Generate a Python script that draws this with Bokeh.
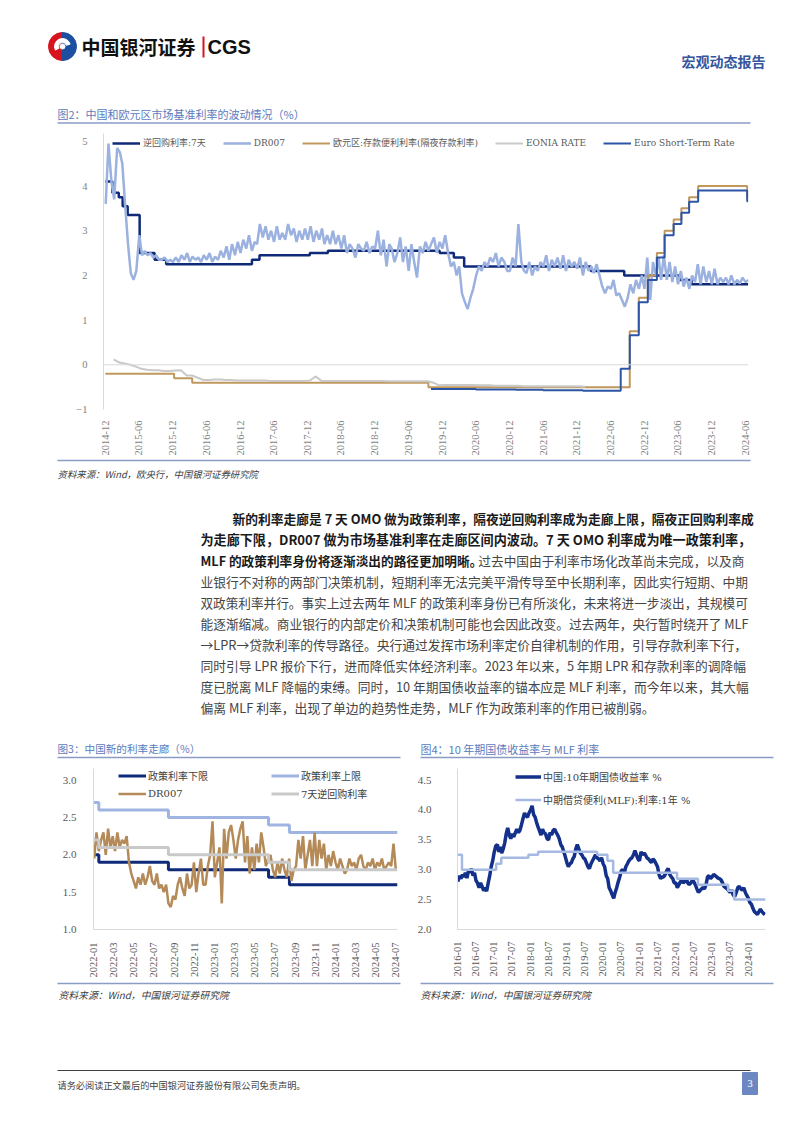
import pandas as pd
from math import pi
from bokeh.plotting import figure
from bokeh.layouts import column, row
from bokeh.models import (Range1d, FixedTicker, DatetimeTickFormatter, NumeralTickFormatter,
                          Legend, LegendItem, Span)
from bokeh.core.properties import value
from bokeh.embed import file_html
from bokeh.resources import INLINE

CJK = "Noto Sans CJK SC"
SERIF = "Liberation Serif"
MIX = "DejaVu Serif, Noto Sans CJK SC"

# ---------------- DATA: chart 1 (图2) ----------------
CH1_TICKS = ["2014-12", "2015-06", "2015-12", "2016-06", "2016-12", "2017-06", "2017-12",
             "2018-06", "2018-12", "2019-06", "2019-12", "2020-06", "2020-12", "2021-06",
             "2021-12", "2022-06", "2022-12", "2023-06", "2023-12", "2024-06"]
# 逆回购利率:7天 (step changes)
REPO_DATES = ["2014-12-01", "2015-01-08", "2015-02-12", "2015-03-05", "2015-04-01", "2015-06-05",
              "2015-08-25", "2015-10-27", "2017-02-03", "2017-03-16", "2017-12-14", "2018-03-22",
              "2019-11-18", "2020-02-03", "2020-03-30", "2022-02-15", "2022-08-15", "2023-06-13",
              "2023-08-15", "2024-06-17"]
REPO_VALS = [4.10, 3.85, 3.75, 3.55, 3.35, 2.50, 2.35, 2.25, 2.35, 2.45, 2.50, 2.55,
             2.50, 2.40, 2.20, 2.10, 2.00, 1.90, 1.80, 1.80]
# DR007, two readings per month, 2014-12 .. 2024-06
DR007_START = "2014-12-01"
DR007_VALS = [
    3.6, 4.95,
    4.1, 3.7, 4.85, 4.75, 4.5, 3.6, 2.7, 2.05, 1.9, 2.1, 2.9, 2.45,
    2.55, 2.45, 2.5, 2.4, 2.45, 2.35, 2.35, 2.4, 2.3, 2.35, 2.3, 2.4,
    2.3, 2.45, 2.35, 2.5, 2.3, 2.42, 2.35, 2.4, 2.3, 2.45, 2.35, 2.5,
    2.3, 2.42, 2.35, 2.55, 2.4, 2.65, 2.35, 2.7, 2.45, 2.75, 2.5, 2.8,
    2.6, 2.9, 2.55, 2.75, 2.7, 3.15, 2.85, 3.1, 2.8, 3.0, 2.75, 3.1,
    2.8, 2.95, 2.8, 3.15, 2.9, 3.05, 2.75, 3.0, 2.8, 3.05, 2.8, 3.1,
    2.75, 3.0, 2.8, 3.05, 2.7, 2.9, 2.7, 3.0, 2.7, 2.9, 2.6, 2.9,
    2.5, 2.7, 2.6, 2.4, 2.7, 2.6, 2.55, 2.75, 2.5, 2.65, 2.6, 3.0,
    2.45, 2.8, 2.2, 2.7, 2.6, 2.3, 2.5, 2.85, 2.3, 2.65, 2.1, 2.7,
    2.3, 1.95, 2.65, 2.5, 2.75, 2.55, 2.7, 2.85, 2.5, 2.75, 2.6, 2.9,
    2.5, 2.2, 2.3, 2.0, 2.2, 1.6, 1.4, 1.25, 1.5, 1.7, 2.0, 2.2,
    2.1, 2.3, 2.2, 2.4, 2.3, 2.5, 2.2, 2.4, 2.3, 2.1, 2.1, 2.4,
    2.2, 3.15, 2.3, 2.1, 2.05, 2.3, 2.0, 2.2, 2.1, 2.3, 2.2, 2.45,
    2.1, 2.35, 2.2, 2.4, 2.15, 2.45, 2.1, 2.35, 2.2, 2.3, 2.15, 2.4,
    2.0, 2.3, 2.1, 2.2, 2.05, 2.25, 2.0, 1.75, 1.6, 1.75, 1.7, 1.9,
    1.55, 1.6, 1.45, 1.3, 1.5, 1.8, 1.6, 1.9, 1.7, 2.0, 1.7, 2.4,
    1.45, 2.3, 2.0, 2.4, 1.9, 2.45, 1.9, 2.3, 1.85, 2.2, 1.8, 2.1,
    1.75, 1.95, 1.7, 2.0, 1.85, 2.25, 1.8, 2.2, 1.85, 2.1, 1.8, 2.15,
    1.8, 1.95, 1.85, 1.95, 1.8, 2.0, 1.8, 1.9, 1.82, 1.95, 1.85, 1.9,
]
# 欧元区:存款便利利率(隔夜存款利率)
DEPO_DATES = ["2014-12-01", "2015-12-09", "2016-03-16", "2019-09-18", "2022-09-14", "2022-11-02",
              "2022-12-21", "2023-02-08", "2023-03-22", "2023-05-10", "2023-06-21", "2023-08-02",
              "2023-09-20", "2024-06-12", "2024-06-17"]
DEPO_VALS = [-0.20, -0.30, -0.40, -0.50, 0.75, 1.50, 2.00, 2.50, 3.00, 3.25, 3.50, 3.75,
             4.00, 3.75, 3.75]
# EONIA RATE, monthly 2014-12 .. 2021-12
EONIA_START = "2014-12-15"
EONIA_VALS = [
    0.12,
    0.05, 0.03, 0.0, -0.04, -0.09, -0.11, -0.12, -0.12, -0.14, -0.14, -0.13, -0.12,
    -0.24, -0.24, -0.29, -0.34, -0.34, -0.33, -0.33, -0.34, -0.34, -0.35, -0.35, -0.35,
    -0.35, -0.35, -0.35, -0.36, -0.36, -0.36, -0.36, -0.36, -0.36, -0.36, -0.35, -0.26,
    -0.36, -0.36, -0.36, -0.36, -0.36, -0.36, -0.36, -0.36, -0.36, -0.36, -0.36, -0.36,
    -0.37, -0.37, -0.37, -0.37, -0.37, -0.37, -0.37, -0.37, -0.40, -0.46, -0.45, -0.45,
    -0.45, -0.45, -0.45, -0.45, -0.46, -0.46, -0.46, -0.47, -0.47, -0.47, -0.47, -0.47,
    -0.48, -0.48, -0.48, -0.48, -0.48, -0.48, -0.48, -0.48, -0.48, -0.48, -0.48, -0.49,
]
# Euro Short-Term Rate
ESTR_DATES = ["2019-10-02", "2020-06-01", "2021-01-04", "2021-06-01", "2022-01-03", "2022-07-27",
              "2022-09-14", "2022-11-02", "2022-12-21", "2023-02-08", "2023-03-22", "2023-05-10",
              "2023-06-21", "2023-08-02", "2023-09-20", "2024-06-12", "2024-06-17"]
ESTR_VALS = [-0.54, -0.55, -0.56, -0.57, -0.58, -0.09, 0.66, 1.40, 1.90, 2.40, 2.90, 3.15,
             3.40, 3.65, 3.90, 3.66, 3.66]

# ---------------- DATA: chart 3 (图3) ----------------
CH3_TICKS = ["2022-01", "2022-03", "2022-05", "2022-07", "2022-09", "2022-11", "2023-01",
             "2023-03", "2023-05", "2023-07", "2023-09", "2023-11", "2024-01", "2024-03",
             "2024-05", "2024-07"]
CORR_DATES = ["2022-01-01", "2022-01-17", "2022-08-15", "2023-06-13", "2023-08-15", "2024-07-06"]
LOWER_VALS = [2.0, 1.9, 1.8, 1.7, 1.6, 1.6]
UPPER_VALS = [2.7, 2.6, 2.5, 2.4, 2.3, 2.3]
REPO7_VALS = [2.2, 2.1, 2.0, 1.9, 1.8, 1.8]
# DR007 weekly from 2022-01-03
DR3_START = "2022-01-03"
DR3_VALS = [
    1.95, 2.3, 2.05, 2.2, 2.3,  2.0, 2.35, 2.1, 2.25,  2.05, 2.3, 2.1, 2.2,
    2.15, 2.25, 1.9, 1.75,  1.65, 1.55, 1.7, 1.6, 1.75,  1.6, 1.7, 1.85, 1.65,
    1.6, 1.75, 1.55, 1.6,  1.5, 1.6, 1.35, 1.3, 1.45,  1.4, 1.6, 1.7, 1.55,
    1.45, 1.75, 1.55, 1.6, 1.9,  1.5, 1.75, 1.95, 1.6,  1.6, 1.85, 2.0, 2.45,
    1.7, 1.9, 2.1, 1.35, 2.35,  1.95, 2.3, 2.4, 2.2,  1.95, 2.2, 2.35, 2.45,
    1.9, 2.25, 1.75, 2.1,  1.8, 2.15, 1.9, 2.3, 2.1,  1.85, 1.95, 2.0, 1.8,
    1.7, 1.9, 1.75, 1.95, 1.8,  1.7, 1.95, 1.65, 1.8,  1.85, 2.2, 1.95, 2.25,
    1.8, 2.0, 2.2, 1.85, 2.3,  1.85, 2.2, 1.95, 2.15,  1.8, 2.0, 1.85, 2.05,
    1.9, 1.8, 1.95, 1.85, 1.75,  1.8, 1.95, 1.85, 1.9,  1.8, 1.95, 2.0, 1.85,
    1.8, 1.9, 1.85, 1.95, 1.8,  1.9, 1.85, 1.95, 1.8,  1.85, 1.9, 1.85, 2.15,
    1.8,
]

# ---------------- DATA: chart 4 (图4) ----------------
CH4_TICKS = ["2016-01", "2016-07", "2017-01", "2017-07", "2018-01", "2018-07", "2019-01",
             "2019-07", "2020-01", "2020-07", "2021-01", "2021-07", "2022-01", "2022-07",
             "2023-01", "2023-07", "2024-01"]
# 中国:10年期国债收益率, two readings per month 2016-01 .. 2024-06
CGB_START = "2016-01-01"
CGB_VALS = [
    2.80, 2.90, 2.85, 2.92, 2.88, 2.95, 2.86, 2.98, 2.95, 3.02, 2.90, 2.95,
    2.82, 2.78, 2.70, 2.78, 2.72, 2.65, 2.70, 2.64, 2.78, 2.90, 3.05, 3.15,
    3.30, 3.40, 3.42, 3.30, 3.38, 3.28, 3.35, 3.45, 3.60, 3.70, 3.58, 3.52,
    3.60, 3.55, 3.62, 3.68, 3.62, 3.66, 3.75, 3.85, 3.95, 3.90, 3.88, 3.95,
    4.00, 4.07, 3.92, 3.88, 3.80, 3.72, 3.65, 3.58, 3.68, 3.62, 3.60, 3.52,
    3.50, 3.62, 3.58, 3.66, 3.68, 3.62, 3.58, 3.52, 3.42, 3.38, 3.30, 3.22,
    3.12, 3.05, 3.10, 3.12, 3.18, 3.22, 3.35, 3.42, 3.35, 3.28, 3.25, 3.20,
    3.18, 3.12, 3.05, 3.02, 3.10, 3.15, 3.20, 3.25, 3.20, 3.18, 3.15, 3.20,
    3.10, 3.05, 2.90, 2.85, 2.70, 2.65, 2.58, 2.52, 2.62, 2.70, 2.80, 2.88,
    2.98, 3.00, 2.95, 3.05, 3.10, 3.15, 3.18, 3.20, 3.25, 3.32, 3.25, 3.18,
    3.15, 3.30, 3.25, 3.28, 3.25, 3.20, 3.18, 3.15, 3.12, 3.18, 3.15, 3.10,
    3.05, 2.92, 2.85, 2.88, 2.88, 2.92, 2.98, 3.02, 2.92, 2.88, 2.85, 2.78,
    2.78, 2.70, 2.75, 2.80, 2.82, 2.78, 2.80, 2.85, 2.78, 2.75, 2.78, 2.82,
    2.80, 2.75, 2.68, 2.62, 2.65, 2.68, 2.70, 2.68, 2.75, 2.88, 2.90, 2.85,
    2.88, 2.92, 2.90, 2.88, 2.86, 2.85, 2.83, 2.78, 2.72, 2.70, 2.68, 2.65,
    2.62, 2.66, 2.58, 2.55, 2.62, 2.70, 2.72, 2.68, 2.66, 2.70, 2.62, 2.57,
    2.52, 2.45, 2.42, 2.35, 2.30, 2.28, 2.25, 2.30, 2.34, 2.30, 2.27, 2.25,
]
MLF_DATES = ["2016-01-01", "2016-02-15", "2017-01-24", "2017-03-16", "2017-12-14", "2018-03-22",
             "2019-11-05", "2020-02-17", "2020-04-15", "2022-01-17", "2022-08-15", "2023-06-15",
             "2023-08-15", "2024-06-25"]
MLF_VALS = [3.25, 3.00, 3.10, 3.20, 3.25, 3.30, 3.25, 3.15, 2.95, 2.85, 2.75, 2.65, 2.50, 2.50]

# ---------------- TEXT ----------------
PARAGRAPH = [
    [("新的利率走廊是 7 天 OMO 做为政策利率，隔夜逆回购利率成为走廊上限，隔夜正回购利率成", True)],
    [("为走廊下限，DR007 做为市场基准利率在走廊区间内波动。7 天 OMO 利率成为唯一政策利率，", True)],
    [("MLF 的政策利率身份将逐渐淡出的路径更加明晰。", True), ("过去中国由于利率市场化改革尚未完成，以及商", False)],
    [("业银行不对称的两部门决策机制，短期利率无法完美平滑传导至中长期利率，因此实行短期、中期", False)],
    [("双政策利率并行。事实上过去两年 MLF 的政策利率身份已有所淡化，未来将进一步淡出，其规模可", False)],
    [("能逐渐缩减。商业银行的内部定价和决策机制可能也会因此改变。过去两年，央行暂时绕开了 MLF", False)],
    [("→LPR→贷款利率的传导路径。央行通过发挥市场利率定价自律机制的作用，引导存款利率下行，", False)],
    [("同时引导 LPR 报价下行，进而降低实体经济利率。2023 年以来，5 年期 LPR 和存款利率的调降幅", False)],
    [("度已脱离 MLF 降幅的束缚。同时，10 年期国债收益率的锚本应是 MLF 利率，而今年以来，其大幅", False)],
    [("偏离 MLF 利率，出现了单边的趋势性走势，MLF 作为政策利率的作用已被削弱。", False)],
]

TITLE_BLUE = "#5a7bbd"
RULE = "#8a9bc4"
AXIS_TXT = "#595959"


def half_month_dates(start, n, days=(3, 18)):
    months = pd.date_range(start, periods=(n + 1) // 2, freq="MS")
    out = [m + pd.Timedelta(days=d - 1) for m in months for d in days]
    return out[:n]


def ms(s):
    return pd.Timestamp(s + "-01" if len(s) == 7 else s).timestamp() * 1000


def canvas(w, h):
    f = figure(width=w, height=h, x_range=Range1d(0, w), y_range=Range1d(h, 0),
               x_axis_type=None, y_axis_type=None, toolbar_location=None,
               output_backend="svg", min_border=0)
    f.outline_line_color = None
    f.background_fill_color = "white"
    f.border_fill_color = "white"
    return f


def txt(f, x, y, s, size, color, font=CJK, style="normal", align="left"):
    f.text(x=[x], y=[y], text=[s], text_font=value(font), text_font_size=size,
           text_color=color, text_font_style=style, text_baseline="middle", text_align=align)


def em_width(s, bold=False):
    w = 0.0
    for ch in s:
        if ord(ch) > 0x2000:
            w += 1.0
        elif ch == " ":
            w += 0.224
        elif ch.isupper():
            w += 0.67 if bold else 0.63
        else:
            w += 0.58 if bold else 0.555
    return w


def chart(width, height, xr, yr, mb):
    p = figure(width=width, height=height, x_axis_type="datetime", x_range=xr, y_range=yr,
               toolbar_location=None, output_backend="svg",
               min_border_left=mb[0], min_border_right=mb[1], min_border_top=mb[2],
               min_border_bottom=mb[3])
    p.outline_line_color = None
    p.xgrid.visible = False
    p.ygrid.visible = False
    for ax in (p.xaxis[0], p.yaxis[0]):
        ax.major_tick_line_color = None
        ax.minor_tick_line_color = None
        ax.major_label_text_font = SERIF
        ax.major_label_text_color = AXIS_TXT
    p.yaxis[0].axis_line_color = "#d9d9d9"
    p.xaxis[0].axis_line_color = "#d9d9d9"
    p.xaxis[0].major_label_orientation = pi / 2
    fmt = "%Y-%m"
    p.xaxis[0].formatter = DatetimeTickFormatter(days=fmt, months=fmt, years=fmt, hours=fmt,
                                                  hourmin=fmt, minutes=fmt, context=None)
    return p


# ================= header =================
head = canvas(802, 128)
head.wedge(x=[62], y=[46], radius=14, start_angle=pi / 2, end_angle=3 * pi / 2, color="#d7141e")
head.wedge(x=[62], y=[46], radius=14, start_angle=-pi / 2, end_angle=pi / 2, color="#1d4fa0")
head.annular_wedge(x=[62], y=[46], inner_radius=4, outer_radius=8, start_angle=0.3,
                   end_angle=3.6, color="white")
head.circle(x=[62], y=[46], radius=2.5, color="white")
txt(head, 81, 46, "中国银河证券", "19px", "#111111", style="bold")
head.segment(x0=[203], y0=[36], x1=[203], y1=[57], line_color="#d7141e", line_width=2)
txt(head, 207, 46, "CGS", "20px", "#111111", font="Liberation Sans", style="bold")
txt(head, 765, 60, "宏观动态报告", "14px", "#34559c", style="bold", align="right")
txt(head, 57, 113, "图2：中国和欧元区市场基准利率的波动情况（%）", "11px", TITLE_BLUE)
head.segment(x0=[57], y0=[122.5], x1=[750], y1=[122.5], line_color=RULE, line_width=1.5)

# ================= chart 1 =================
x1r = Range1d(pd.Timestamp("2014-11-21"), pd.Timestamp("2024-06-19"))
p1 = chart(802, 330, x1r, Range1d(-1, 5.175), (103, 54, 5, 42))
p1.yaxis[0].ticker = FixedTicker(ticks=[-1, 0, 1, 2, 3, 4, 5])
p1.yaxis[0].major_label_standoff = 10
p1.yaxis[0].major_label_text_font_size = "10.5px"
p1.yaxis[0].major_label_text_color = "#7f7f7f"
p1.xaxis[0].axis_line_color = None
p1.xaxis[0].ticker = FixedTicker(ticks=[ms(t) for t in CH1_TICKS])
p1.xaxis[0].major_label_text_font_size = "10.5px"
p1.xaxis[0].major_label_text_color = "#7f7f7f"
p1.xaxis[0].major_label_standoff = 5
p1.add_layout(Span(location=0, dimension="width", line_color="#d9d9d9", line_width=1))

r_repo = p1.step(pd.to_datetime(REPO_DATES), REPO_VALS, mode="after", line_color="#0f2a78", line_width=2.5)
dr_dates = half_month_dates(DR007_START, len(DR007_VALS))
r_dr = p1.line(dr_dates, DR007_VALS, line_color="#9bb1df", line_width=2.5)
r_depo = p1.step(pd.to_datetime(DEPO_DATES), DEPO_VALS, mode="after", line_color="#c0985e", line_width=2)
eonia_dates = pd.date_range(EONIA_START, periods=len(EONIA_VALS), freq="MS") + pd.Timedelta(days=14)
r_eonia = p1.line(eonia_dates, EONIA_VALS, line_color="#c9c9c9", line_width=2)
r_estr = p1.step(pd.to_datetime(ESTR_DATES), ESTR_VALS, mode="after", line_color="#2d55a5", line_width=2)

leg1 = Legend(items=[LegendItem(label="逆回购利率:7天", renderers=[r_repo]),
                     LegendItem(label="DR007", renderers=[r_dr]),
                     LegendItem(label="欧元区:存款便利利率(隔夜存款利率)", renderers=[r_depo]),
                     LegendItem(label="EONIA RATE", renderers=[r_eonia]),
                     LegendItem(label="Euro Short-Term Rate", renderers=[r_estr])],
              orientation="horizontal", location=(9, 260), padding=2, margin=0, spacing=17,
              glyph_width=28, glyph_height=12, label_height=12, label_standoff=3,
              label_text_font=MIX, label_text_font_size="9px", label_text_color="#595959",
              border_line_color=None, background_fill_alpha=0)
p1.add_layout(leg1)

# ================= text block =================
mid = canvas(802, 304)
mid.segment(x0=[57], y0=[2], x1=[750], y1=[2], line_color=RULE, line_width=1.5)
txt(mid, 57, 15, "资料来源：Wind，欧央行，中国银河证券研究院", "9.4px", "#404040", style="italic")
RIGHT_EDGE = 748
for i, segs in enumerate(PARAGRAPH):
    x = 232 if i == 0 else 200
    y = 518 - 458 + 21 * i
    ems = sum(em_width(s, b) for s, b in segs)
    if i == len(PARAGRAPH) - 1:
        fs = 12.8
    else:
        fs = max(12.2, min(13.1, (RIGHT_EDGE - x) / ems))
    for s, bold in segs:
        txt(mid, x, y, s, "%.2fpx" % fs, "#1a1a1a" if bold else "#454545",
            style="bold" if bold else "normal")
        x += em_width(s, bold) * fs - (4 if s.endswith("。") else 0)
txt(mid, 57, 290, "图3：中国新的利率走廊（%）", "10.6px", TITLE_BLUE)
txt(mid, 420, 290, "图4：10 年期国债收益率与 MLF 利率", "11px", TITLE_BLUE)
mid.segment(x0=[57], y0=[299], x1=[400], y1=[299], line_color=RULE, line_width=1.5)
mid.segment(x0=[420], y0=[299], x1=[773], y1=[299], line_color=RULE, line_width=1.5)

# ================= chart 3 =================
x3r = Range1d(pd.Timestamp("2022-01-01"), pd.Timestamp("2024-07-06"))
p3 = chart(401, 218, x3r, Range1d(1.0, 3.157), (93, 4, 6, 47))
p3.yaxis[0].ticker = FixedTicker(ticks=[1.0, 1.5, 2.0, 2.5, 3.0])
p3.yaxis[0].formatter = NumeralTickFormatter(format="0.0")
p3.yaxis[0].major_label_standoff = 11
p3.yaxis[0].major_label_text_font_size = "11px"
p3.xaxis[0].ticker = FixedTicker(ticks=[ms(t) for t in CH3_TICKS])
p3.xaxis[0].major_label_text_font_size = "10.5px"
p3.xaxis[0].major_label_standoff = 7
cd = pd.to_datetime(CORR_DATES)
r_low = p3.step(cd, LOWER_VALS, mode="after", line_color="#0f2a78", line_width=3)
r_up = p3.step(cd, UPPER_VALS, mode="after", line_color="#9fb4e0", line_width=3)
dr3_dates = pd.date_range(DR3_START, periods=len(DR3_VALS), freq="7D")
r_dr3 = p3.line(dr3_dates, DR3_VALS, line_color="#b38a58", line_width=2.5)
r_r7 = p3.step(cd, REPO7_VALS, mode="after", line_color="#c9c9c9", line_width=3)
leg3 = Legend(items=[LegendItem(label="政策利率下限", renderers=[r_low]),
                     LegendItem(label="政策利率上限", renderers=[r_up]),
                     LegendItem(label="DR007", renderers=[r_dr3]),
                     LegendItem(label="7天逆回购利率", renderers=[r_r7])],
              orientation="horizontal", ncols=2, location=(25, 128), padding=2, margin=0,
              spacing=3, glyph_width=28, glyph_height=13, label_height=13, label_width=120,
              label_standoff=2, label_text_font=MIX, label_text_font_size="10px",
              label_text_color="#404040", border_line_color=None, background_fill_alpha=0)
p3.add_layout(leg3)

# ================= chart 4 =================
x4r = Range1d(pd.Timestamp("2016-01-01"), pd.Timestamp("2024-06-25"))
p4 = chart(401, 218, x4r, Range1d(2.0, 4.694), (56, 37, 6, 46))
p4.yaxis[0].ticker = FixedTicker(ticks=[2.0, 2.5, 3.0, 3.5, 4.0, 4.5])
p4.yaxis[0].formatter = NumeralTickFormatter(format="0.0")
p4.yaxis[0].major_label_standoff = 20
p4.yaxis[0].major_label_text_font_size = "11px"
p4.xaxis[0].ticker = FixedTicker(ticks=[ms(t) for t in CH4_TICKS])
p4.xaxis[0].major_label_text_font_size = "10.5px"
p4.xaxis[0].major_label_standoff = 6
r_cgb = p4.line(half_month_dates(CGB_START, len(CGB_VALS), days=(5, 20)), CGB_VALS,
                line_color="#13308a", line_width=3.5)
r_mlf = p4.step(pd.to_datetime(MLF_DATES), MLF_VALS, mode="after", line_color="#a6b9e2", line_width=2.5)
leg4 = Legend(items=[LegendItem(label="中国:10年期国债收益率 %", renderers=[r_cgb]),
                     LegendItem(label="中期借贷便利(MLF):利率:1年 %", renderers=[r_mlf])],
              orientation="vertical", location=(58, 122), padding=2, margin=0, spacing=8,
              glyph_width=26, glyph_height=13, label_height=13, label_standoff=2,
              label_text_font=MIX, label_text_font_size="10px", label_text_color="#404040",
              border_line_color=None, background_fill_alpha=0)
p4.add_layout(leg4)

# ================= footer =================
foot = canvas(802, 153)
foot.segment(x0=[57], y0=[3], x1=[400], y1=[3], line_color=RULE, line_width=1.5)
foot.segment(x0=[420], y0=[3], x1=[773], y1=[3], line_color=RULE, line_width=1.5)
txt(foot, 58, 14, "资料来源：Wind，中国银河证券研究院", "9.8px", "#404040", style="italic")
txt(foot, 420, 14, "资料来源：Wind，中国银河证券研究院", "9.8px", "#404040", style="italic")
foot.segment(x0=[57], y0=[90], x1=[750], y1=[90], line_color="#404040", line_width=1)
txt(foot, 57, 104, "请务必阅读正文最后的中国银河证券股份有限公司免责声明。", "9.2px", "#404040")
foot.quad(left=[742], right=[757], top=[92], bottom=[114], color="#6d87c2")
txt(foot, 749.5, 103, "3", "11px", "white", font=SERIF, align="center")

page = column(row(head, spacing=0), row(p1, spacing=0), row(mid, spacing=0),
              row(p3, p4, spacing=0), row(foot, spacing=0), spacing=0)
open("out.html", "w").write(file_html(page, INLINE))
